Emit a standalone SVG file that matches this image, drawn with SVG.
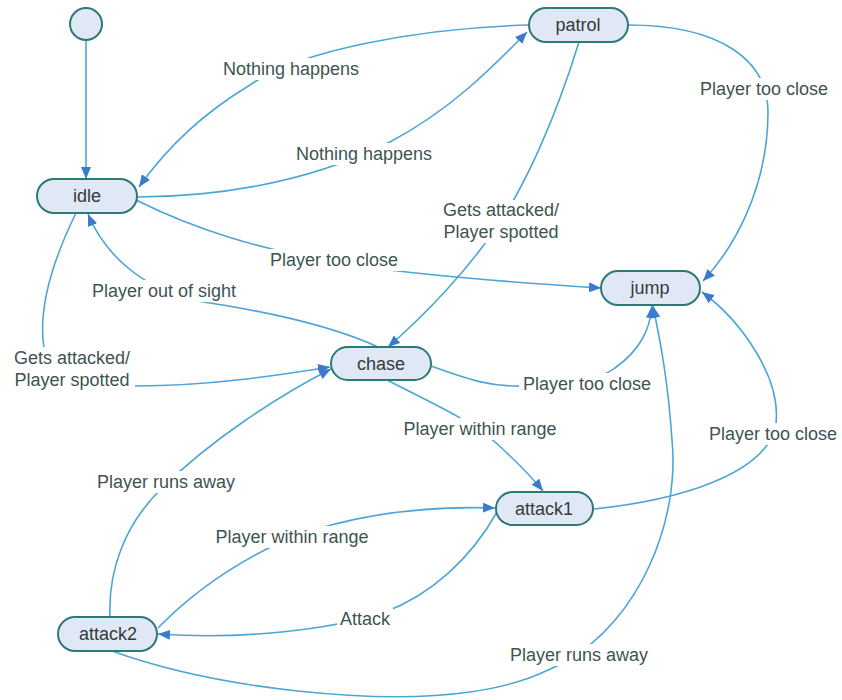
<svg xmlns="http://www.w3.org/2000/svg" width="842" height="700" viewBox="0 0 842 700">
  <defs>
    <marker id="arrow" markerUnits="userSpaceOnUse" markerWidth="12" markerHeight="10" refX="12" refY="5" orient="auto">
      <path d="M0,0 L12,5 L0,10 z" fill="#3a7bd0"/>
    </marker>
    <style>
      .node { fill: #e1e8f5; stroke: #2c7a74; stroke-width: 2; }
      .nlabel { font-family: "Liberation Sans", Arial, sans-serif; font-size: 18px; fill: #333b3b; text-anchor: middle; }
      .edge { fill: none; stroke: #4ba6d6; stroke-width: 1.6; marker-end: url(#arrow); }
      .elabel { font-family: "Liberation Sans", Arial, sans-serif; font-size: 18px; fill: #3d5452; text-anchor: middle; }
      .lbg { fill: #ffffff; }
    </style>
  </defs>
  <rect width="842" height="700" fill="#ffffff"/>

  <!-- transitions -->
  <g id="connectors">
    <!-- initial -> idle -->
    <path class="edge" d="M86,40 L86,179"/>
    <!-- patrol -> idle -->
    <path class="edge" d="M529,25 C420,28 300,50 250,85 C200,115 165,150 139,187"/>
    <!-- idle -> patrol -->
    <path class="edge" d="M138,197 C250,196 330,172 390,142 C450,110 490,70 527,32"/>
    <!-- patrol -> chase -->
    <path class="edge" d="M579,42 C555,120 525,185 500,222 C470,268 425,315 388,347"/>
    <!-- patrol -> jump -->
    <path class="edge" d="M628,25 C720,25 768,60 768,112 C768,190 732,250 703,281"/>
    <!-- idle -> jump -->
    <path class="edge" d="M136,200 C200,232 260,248 330,262 C420,276 520,283 601,288"/>
    <!-- chase -> idle -->
    <path class="edge" d="M378,347 C330,325 260,310 190,300 C140,285 105,255 88,214"/>
    <!-- idle -> chase -->
    <path class="edge" d="M76,213 C52,262 38,310 44,348 C50,380 90,387 135,386 C210,386 280,375 330,367"/>
    <!-- chase -> jump -->
    <path class="edge" d="M431,366 C470,380 490,387 525,386 C570,385 600,380 615,368 C640,350 650,330 652,306"/>
    <!-- chase -> attack1 -->
    <path class="edge" d="M387,380 C430,402 470,420 495,442 C515,460 530,475 543,491"/>
    <!-- attack1 -> jump -->
    <path class="edge" d="M594,509 C680,500 760,475 775,430 C785,380 740,320 702,292"/>
    <!-- attack2 -> chase -->
    <path class="edge" d="M110,617 C108,570 125,525 160,490 C210,440 280,395 331,369"/>
    <!-- attack2 -> attack1 -->
    <path class="edge" d="M158,628 C195,590 240,560 290,538 C360,512 430,506 495,508"/>
    <!-- attack1 -> attack2 -->
    <path class="edge" d="M497,512 C470,560 430,595 385,612 C330,630 240,640 158,634"/>
    <!-- attack2 -> jump -->
    <path class="edge" d="M112,651 C220,690 380,705 470,692 C520,685 545,672 565,662 C640,620 680,520 672,440 C668,380 660,340 653,306"/>

    <!-- transition labels -->
    <rect class="lbg" x="218" y="58" width="146" height="22"/>
    <text class="elabel" x="291" y="75">Nothing happens</text>
    <rect class="lbg" x="290" y="143" width="148" height="22"/>
    <text class="elabel" x="364" y="160">Nothing happens</text>
    <rect class="lbg" x="437" y="200" width="128" height="43"/>
    <text class="elabel" x="501" y="216">Gets attacked/</text>
    <text class="elabel" x="501" y="238">Player spotted</text>
    <rect class="lbg" x="695" y="78" width="139" height="22"/>
    <text class="elabel" x="764" y="95">Player too close</text>
    <rect class="lbg" x="265" y="249" width="138" height="22"/>
    <text class="elabel" x="334" y="266">Player too close</text>
    <rect class="lbg" x="88" y="280" width="153" height="22"/>
    <text class="elabel" x="164" y="297">Player out of sight</text>
    <rect class="lbg" x="9" y="347" width="126" height="44"/>
    <text class="elabel" x="72" y="364">Gets attacked/</text>
    <text class="elabel" x="72" y="386">Player spotted</text>
    <rect class="lbg" x="519" y="373" width="136" height="22"/>
    <text class="elabel" x="587" y="390">Player too close</text>
    <rect class="lbg" x="399" y="418" width="162" height="22"/>
    <text class="elabel" x="480" y="435">Player within range</text>
    <rect class="lbg" x="706" y="423" width="135" height="22"/>
    <text class="elabel" x="773" y="440">Player too close</text>
    <rect class="lbg" x="93" y="471" width="146" height="22"/>
    <text class="elabel" x="166" y="488">Player runs away</text>
    <rect class="lbg" x="210" y="526" width="164" height="22"/>
    <text class="elabel" x="292" y="543">Player within range</text>
    <rect class="lbg" x="337" y="608" width="56" height="22"/>
    <text class="elabel" x="365" y="625">Attack</text>
    <rect class="lbg" x="505" y="644" width="148" height="22"/>
    <text class="elabel" x="579" y="661">Player runs away</text>
  </g>

  <!-- states -->
  <g id="initial">
    <circle class="node" cx="86" cy="24" r="16"/>
  </g>
  <g id="idle">
    <rect class="node" x="37" y="179" width="100" height="34" rx="17"/>
    <text class="nlabel" x="87" y="202">idle</text>
  </g>
  <g id="patrol">
    <rect class="node" x="529" y="8" width="99" height="34" rx="17"/>
    <text class="nlabel" x="578" y="31">patrol</text>
  </g>
  <g id="jump">
    <rect class="node" x="601" y="271" width="99" height="34" rx="17"/>
    <text class="nlabel" x="650" y="294">jump</text>
  </g>
  <g id="chase">
    <rect class="node" x="331" y="347" width="100" height="33" rx="16.5"/>
    <text class="nlabel" x="381" y="370">chase</text>
  </g>
  <g id="attack1">
    <rect class="node" x="496" y="492" width="97" height="33" rx="16.5"/>
    <text class="nlabel" x="544" y="515">attack1</text>
  </g>
  <g id="attack2">
    <rect class="node" x="58" y="617" width="99" height="34" rx="17"/>
    <text class="nlabel" x="108" y="640">attack2</text>
  </g>
</svg>
